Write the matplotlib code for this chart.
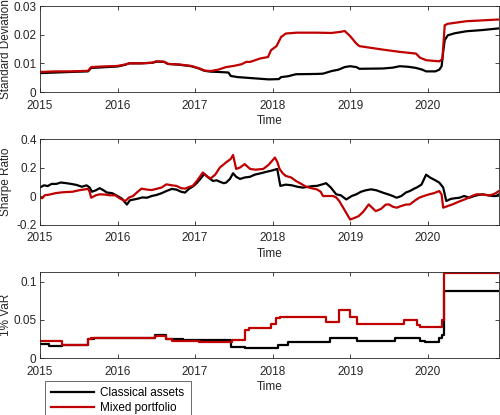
import matplotlib
matplotlib.use("Agg")
import matplotlib.pyplot as plt
import numpy as np

plt.rcParams['font.family'] = ['Liberation Sans', 'DejaVu Sans']
plt.rcParams['font.size'] = 8.5

# ---------------- data ----------------
sd_black_t = [2015.00, 2015.20, 2015.40, 2015.62, 2015.66, 2015.80, 2016.00, 2016.10, 2016.15, 2016.30,
              2016.45, 2016.50, 2016.60, 2016.65, 2016.80, 2016.95, 2017.05, 2017.12, 2017.20, 2017.30,
              2017.43, 2017.46, 2017.55, 2017.65, 2017.80, 2017.95, 2018.08, 2018.11, 2018.20, 2018.30,
              2018.57, 2018.65, 2018.76, 2018.85, 2018.93, 2019.00, 2019.08, 2019.12, 2019.42, 2019.55,
              2019.64, 2019.75, 2019.85, 2019.93, 2019.98, 2020.10, 2020.15, 2020.18, 2020.20, 2020.22,
              2020.26, 2020.35, 2020.50, 2020.70, 2020.92]
sd_black_v = [0.0066, 0.0068, 0.0070, 0.0072, 0.0084, 0.0086, 0.0089, 0.0095, 0.0100, 0.0100,
              0.0102, 0.0106, 0.0105, 0.0098, 0.0095, 0.0090, 0.0082, 0.0074, 0.0071, 0.0070,
              0.0068, 0.0056, 0.0052, 0.0050, 0.0047, 0.0044, 0.0045, 0.0052, 0.0055, 0.0062,
              0.0063, 0.0064, 0.0073, 0.0078, 0.0087, 0.0090, 0.0087, 0.0081, 0.0082, 0.0085,
              0.0090, 0.0088, 0.0084, 0.0078, 0.0072, 0.0072, 0.0078, 0.0090, 0.0140, 0.0181,
              0.0198, 0.0205, 0.0212, 0.0216, 0.0222]

sd_red_t = [2015.00, 2015.20, 2015.40, 2015.62, 2015.66, 2015.80, 2016.00, 2016.10, 2016.15, 2016.30,
            2016.45, 2016.50, 2016.60, 2016.65, 2016.80, 2016.95, 2017.05, 2017.12, 2017.20, 2017.30,
            2017.40, 2017.50, 2017.60, 2017.66, 2017.71, 2017.84, 2017.94, 2017.98, 2018.05, 2018.11,
            2018.17, 2018.31, 2018.57, 2018.76, 2018.88, 2018.93, 2019.00, 2019.08, 2019.12, 2019.42,
            2019.64, 2019.85, 2019.90, 2019.98, 2020.15, 2020.19, 2020.22, 2020.26, 2020.50, 2020.92]
sd_red_v = [0.0070, 0.0072, 0.0072, 0.0074, 0.0087, 0.0089, 0.0091, 0.0096, 0.0100, 0.0100,
            0.0102, 0.0107, 0.0106, 0.0098, 0.0096, 0.0091, 0.0083, 0.0075, 0.0073, 0.0078,
            0.0087, 0.0091, 0.0097, 0.0105, 0.0105, 0.0117, 0.0122, 0.0146, 0.0160, 0.0192,
            0.0204, 0.0207, 0.0207, 0.0206, 0.0210, 0.0213, 0.0195, 0.0169, 0.0160, 0.0148,
            0.0140, 0.0134, 0.0120, 0.0111, 0.0107, 0.0115, 0.0233, 0.0238, 0.0247, 0.0253]

sr_black_t = [2015.00, 2015.05, 2015.10, 2015.15, 2015.21, 2015.27, 2015.34, 2015.40, 2015.47, 2015.54,
              2015.60, 2015.64, 2015.67, 2015.72, 2015.77, 2015.82, 2015.86, 2015.93, 2016.00, 2016.06,
              2016.12, 2016.16, 2016.25, 2016.32, 2016.38, 2016.44, 2016.50, 2016.57, 2016.63, 2016.70,
              2016.76, 2016.82, 2016.87, 2016.92, 2016.97, 2017.02, 2017.06, 2017.12, 2017.17, 2017.23,
              2017.28, 2017.32, 2017.37, 2017.40, 2017.45, 2017.49, 2017.53, 2017.58, 2017.64, 2017.71,
              2017.77, 2017.85, 2017.92, 2018.00, 2018.06, 2018.09, 2018.10, 2018.17, 2018.25, 2018.32,
              2018.39, 2018.46, 2018.52, 2018.57, 2018.63, 2018.69, 2018.75, 2018.82, 2018.88, 2018.95,
              2019.02, 2019.08, 2019.14, 2019.20, 2019.27, 2019.34, 2019.42, 2019.50, 2019.55, 2019.60,
              2019.66, 2019.72, 2019.77, 2019.82, 2019.86, 2019.92, 2019.98, 2020.03, 2020.10, 2020.15,
              2020.20, 2020.24, 2020.30, 2020.36, 2020.41, 2020.47, 2020.54, 2020.60, 2020.66, 2020.71,
              2020.78, 2020.84, 2020.88, 2020.92]
sr_black_v = [0.060, 0.075, 0.070, 0.085, 0.085, 0.095, 0.090, 0.085, 0.078, 0.065,
              0.075, 0.060, 0.030, 0.040, 0.055, 0.040, 0.025, 0.020, 0.000, -0.020,
              -0.060, -0.030, -0.020, -0.010, -0.012, 0.000, 0.007, 0.020, 0.035, 0.050,
              0.045, 0.030, 0.024, 0.050, 0.066, 0.090, 0.115, 0.155, 0.130, 0.106,
              0.110, 0.100, 0.090, 0.094, 0.120, 0.160, 0.135, 0.120, 0.130, 0.135,
              0.150, 0.160, 0.170, 0.180, 0.190, 0.100, 0.071, 0.080, 0.075, 0.065,
              0.059, 0.065, 0.070, 0.071, 0.080, 0.090, 0.060, 0.012, 0.005, -0.024,
              0.000, 0.012, 0.030, 0.040, 0.047, 0.040, 0.024, 0.010, 0.000, -0.012,
              0.000, 0.025, 0.035, 0.050, 0.060, 0.080, 0.150, 0.130, 0.110, 0.094,
              0.060, -0.035, -0.020, -0.015, -0.012, 0.000, -0.012, 0.000, 0.008, 0.012,
              0.005, 0.000, 0.000, 0.012]

sr_red_t = [2015.00, 2015.03, 2015.06, 2015.12, 2015.20, 2015.27, 2015.34, 2015.42, 2015.50, 2015.56,
            2015.62, 2015.64, 2015.66, 2015.72, 2015.77, 2015.84, 2015.90, 2015.97, 2016.04, 2016.10,
            2016.15, 2016.20, 2016.26, 2016.31, 2016.38, 2016.44, 2016.50, 2016.57, 2016.63, 2016.70,
            2016.76, 2016.82, 2016.87, 2016.93, 2016.97, 2017.03, 2017.10, 2017.15, 2017.20, 2017.26,
            2017.32, 2017.40, 2017.46, 2017.49, 2017.53, 2017.58, 2017.64, 2017.71, 2017.78, 2017.88,
            2017.95, 2018.03, 2018.06, 2018.09, 2018.13, 2018.17, 2018.24, 2018.30, 2018.37, 2018.43,
            2018.50, 2018.57, 2018.62, 2018.65, 2018.72, 2018.78, 2018.82, 2018.86, 2018.93, 2019.00,
            2019.05, 2019.11, 2019.17, 2019.24, 2019.28, 2019.33, 2019.40, 2019.46, 2019.50, 2019.55,
            2019.60, 2019.66, 2019.72, 2019.77, 2019.84, 2019.89, 2019.95, 2020.02, 2020.08, 2020.15,
            2020.18, 2020.20, 2020.26, 2020.32, 2020.40, 2020.50, 2020.57, 2020.63, 2020.70, 2020.80,
            2020.86, 2020.92]
sr_red_v = [-0.010, -0.015, 0.005, 0.010, 0.020, 0.025, 0.028, 0.030, 0.040, 0.045,
            0.050, 0.030, -0.012, 0.005, 0.012, 0.010, 0.005, 0.005, -0.020, -0.035,
            -0.010, 0.000, 0.030, 0.052, 0.045, 0.042, 0.050, 0.060, 0.082, 0.075,
            0.071, 0.055, 0.052, 0.065, 0.071, 0.110, 0.165, 0.140, 0.123, 0.150,
            0.200, 0.236, 0.260, 0.288, 0.190, 0.200, 0.224, 0.190, 0.185, 0.190,
            0.220, 0.270, 0.240, 0.190, 0.160, 0.141, 0.130, 0.106, 0.085, 0.066,
            0.055, 0.047, 0.030, 0.000, 0.000, 0.000, -0.010, -0.035, -0.100, -0.165,
            -0.155, -0.141, -0.110, -0.059, -0.080, -0.106, -0.090, -0.060, -0.059, -0.075,
            -0.082, -0.070, -0.060, -0.059, -0.030, -0.012, 0.000, 0.012, 0.020, 0.035,
            0.010, -0.082, -0.070, -0.059, -0.040, -0.019, 0.000, 0.012, 0.010, 0.005,
            0.015, 0.035]

var_black_t = [2015.00, 2015.12, 2015.28, 2015.62, 2015.70, 2016.48, 2016.63, 2016.72, 2016.85, 2017.46,
               2017.65, 2018.07, 2018.20, 2018.74, 2019.09, 2019.58, 2019.90, 2019.97, 2020.15, 2020.18,
               2020.21, 2020.92]
var_black_v = [0.0185, 0.0160, 0.0164, 0.0250, 0.0260, 0.0300, 0.0250, 0.0246, 0.0237, 0.0142,
               0.0130, 0.0172, 0.0216, 0.0260, 0.0224, 0.0260, 0.0224, 0.0216, 0.0260, 0.0300,
               0.0880, 0.0880]

var_red_t = [2015.00, 2015.28, 2015.62, 2015.66, 2016.48, 2016.63, 2016.70, 2017.05, 2017.48, 2017.64,
             2017.70, 2017.98, 2018.04, 2018.10, 2018.69, 2018.85, 2019.00, 2019.09, 2019.70, 2019.86,
             2019.90, 2020.19, 2020.21, 2020.92]
var_red_v = [0.0228, 0.0164, 0.0250, 0.0260, 0.0290, 0.0250, 0.0224, 0.0207, 0.0237, 0.0366,
             0.0388, 0.0450, 0.0520, 0.0540, 0.0470, 0.0630, 0.0540, 0.0450, 0.0496, 0.0430,
             0.0400, 0.0496, 0.1110, 0.1110]

years = [2015, 2016, 2017, 2018, 2019, 2020]
labels = ["Classical assets", "Mixed portfolio"]
BLACK = "#000000"
RED = "#c00000"
GRAY = "#262626"

fig = plt.figure(figsize=(5.0, 4.15), dpi=100)
L, W = 0.08, 0.918
ax1 = fig.add_axes([L, 0.7783, W, 0.2072])
ax2 = fig.add_axes([L, 0.459, W, 0.206])
ax3 = fig.add_axes([L, 0.1373, W, 0.207])

def style(ax, ylabel):
    ax.set_xlim(2015, 2020.92)
    ax.set_xticks(years)
    ax.set_xticklabels([str(y) for y in years])
    ax.tick_params(direction='in', top=True, right=True, length=3, width=0.6,
                   color=GRAY, labelcolor=GRAY, labelsize=8.5)
    ax.tick_params(axis='x', pad=5.5)
    ax.tick_params(axis='y', pad=2.5)
    for s in ax.spines.values():
        s.set_color(GRAY)
        s.set_linewidth(0.6)
    ax.set_xlabel("Time", fontsize=8.5, color=GRAY, labelpad=2.5)
    ax.set_ylabel(ylabel, fontsize=8.5, color=GRAY)
    ax.yaxis.set_label_coords(-0.062, 0.5)

lw = 1.6
ax1.plot(sd_black_t, sd_black_v, color=BLACK, lw=lw)
ax1.plot(sd_red_t, sd_red_v, color=RED, lw=lw)
ax1.set_ylim(0, 0.03)
ax1.set_yticks([0, 0.01, 0.02, 0.03])
ax1.set_yticklabels(["0", "0.01", "0.02", "0.03"])
style(ax1, "Standard Deviation")

ax2.plot(sr_black_t, sr_black_v, color=BLACK, lw=lw)
ax2.plot(sr_red_t, sr_red_v, color=RED, lw=lw)
ax2.set_ylim(-0.2, 0.4)
ax2.set_yticks([-0.2, 0, 0.2, 0.4])
ax2.set_yticklabels(["-0.2", "0", "0.2", "0.4"])
style(ax2, "Sharpe Ratio")

h1, = ax3.plot(var_black_t, var_black_v, color=BLACK, lw=lw, drawstyle='steps-post')
h2, = ax3.plot(var_red_t, var_red_v, color=RED, lw=lw, drawstyle='steps-post')
ax3.set_ylim(0, 0.1125)
ax3.set_yticks([0, 0.05, 0.1])
ax3.set_yticklabels(["0", "0.05", "0.1"])
style(ax3, "1% VaR")

leg = fig.legend([h1, h2], labels, loc='upper left', bbox_to_anchor=(0.09, 0.082),
                 frameon=True, fancybox=False, fontsize=8.5, handlelength=3.6,
                 borderpad=0.55, labelspacing=0.25, handletextpad=0.5, borderaxespad=0)
leg.get_frame().set_edgecolor(GRAY)
leg.get_frame().set_linewidth(0.6)
for line in leg.get_lines():
    line.set_linewidth(1.6)

fig.savefig("out.png", dpi=100)
